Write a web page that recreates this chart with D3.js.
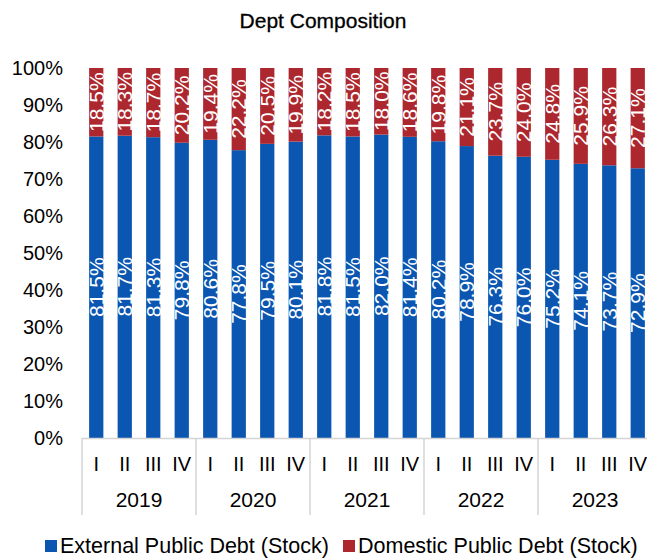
<!DOCTYPE html>
<html><head><meta charset="utf-8">
<script src="https://cdn.jsdelivr.net/npm/d3@7"></script>
<style>body{margin:0;background:#fff;} text{font-family:"Liberation Sans",Arial,sans-serif;}</style>
</head><body>
<svg id="c" width="647" height="558"></svg>
<script>
const years = ["2019","2020","2021","2022","2023"];
const quarters = ["I","II","III","IV"];
const external = [81.5,81.7,81.3,79.8, 80.6,77.8,79.5,80.1, 81.8,81.5,82.0,81.4, 80.2,78.9,76.3,76.0, 75.2,74.1,73.7,72.9];
const domestic = [18.5,18.3,18.7,20.2, 19.4,22.2,20.5,19.9, 18.2,18.5,18.0,18.6, 19.8,21.1,23.7,24.0, 24.8,25.9,26.3,27.1];
const yTicks = [0,10,20,30,40,50,60,70,80,90,100];
const seriesNames = ["External Public Debt (Stock)","Domestic Public Debt (Stock)"];
const colors = ["#0b56b0","#ad282e"];

(function(){
const svg = d3.select("#c");
const pL = 82, pR = 652, pT = 68, pB = 438;
const cats = [];
years.forEach(y => quarters.forEach(q => cats.push(y + "-" + q)));
const x = d3.scaleBand().domain(cats).range([pL, pR]).paddingInner(0.5).paddingOuter(0.25);
const y = d3.scaleLinear().domain([0,100]).range([pB, pT]);

svg.append("text").attr("x", 323).attr("y", 28).attr("text-anchor","middle")
  .attr("font-size", 21).attr("fill","#000").attr("stroke","#000").attr("stroke-width",0.3)
  .text("Dept Composition");

svg.append("g").selectAll("text").data(yTicks).join("text")
  .attr("x", 63).attr("y", d => y(d) + 7).attr("text-anchor","end")
  .attr("font-size", 20).attr("fill","#000").text(d => d + "%");

const data = cats.map((c,i) => ({c, e: external[i], d: domestic[i]}));
const g = svg.append("g");
g.selectAll("rect.e").data(data).join("rect").attr("class","e")
  .attr("x", d => x(d.c)).attr("width", x.bandwidth())
  .attr("y", d => y(d.e)).attr("height", d => y(0) - y(d.e)).attr("fill", colors[0]);
g.selectAll("rect.d").data(data).join("rect").attr("class","d")
  .attr("x", d => x(d.c)).attr("width", x.bandwidth())
  .attr("y", d => y(d.e + d.d)).attr("height", d => y(d.e) - y(d.e + d.d)).attr("fill", colors[1]);

function lab(cls, getMid, getVal){
  g.selectAll("text."+cls).data(data).join("text").attr("class",cls)
    .attr("transform", d => `translate(${x(d.c) + x.bandwidth()/2 + 7.5},${y(getMid(d))}) rotate(-90)`)
    .attr("text-anchor","middle").attr("font-size", 21).attr("fill","#fff")
    .text(d => getVal(d).toFixed(1) + "%");
}
lab("le", d => d.e/2, d => d.e);
lab("ld", d => d.e + d.d/2, d => d.d);

svg.append("line").attr("x1", pL).attr("x2", 647).attr("y1", pB + 0.5).attr("y2", pB + 0.5)
  .attr("stroke","#d4d4d4").attr("stroke-width",1.5);
const groupW = x.step() * 4;
years.forEach((yr, i) => {
  const gx = pL + i * groupW;
  svg.append("line").attr("x1", gx).attr("x2", gx).attr("y1", pB).attr("y2", 515)
    .attr("stroke","#d4d4d4").attr("stroke-width",1.5);
  svg.append("text").attr("x", gx + groupW/2).attr("y", 507).attr("text-anchor","middle")
    .attr("font-size", 21).attr("fill","#000").text(yr);
});
svg.append("g").selectAll("text").data(cats).join("text")
  .attr("x", d => x(d) + x.bandwidth()/2).attr("y", 471).attr("text-anchor","middle")
  .attr("font-size", 20).attr("fill","#000").text(d => d.split("-")[1]);

const legX = [45, 343];
seriesNames.forEach((n,i) => {
  svg.append("rect").attr("x", legX[i]).attr("y", 540).attr("width", 12).attr("height", 12).attr("fill", colors[i]);
  svg.append("text").attr("x", legX[i] + 15).attr("y", 552.5).attr("font-size", 21.5).attr("fill","#000").text(n);
});
})();
</script>
</body></html>
